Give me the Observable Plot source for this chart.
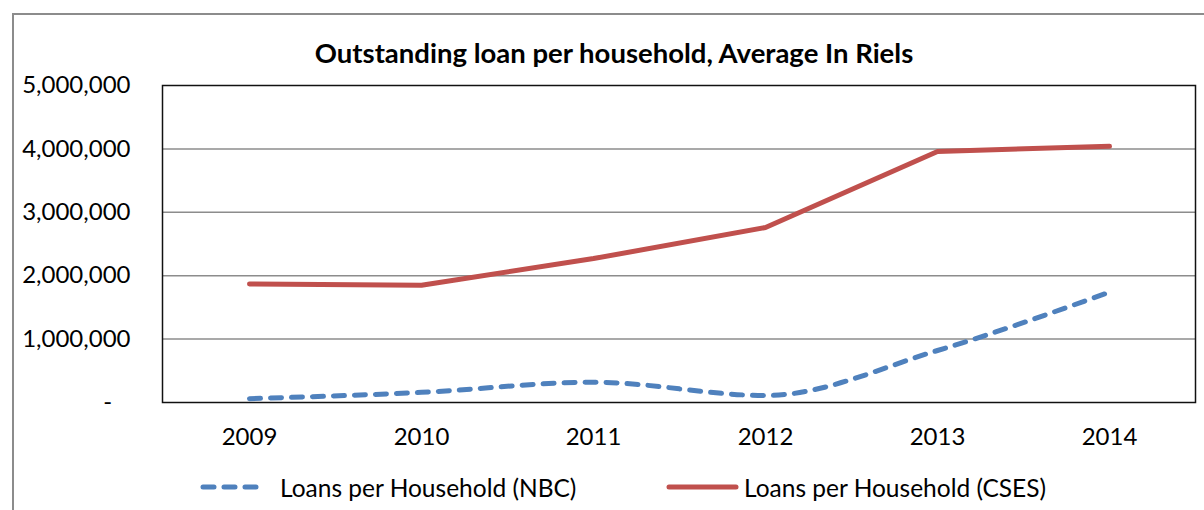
<!DOCTYPE html>
<html>
<head>
<meta charset="utf-8">
<script src="https://cdn.jsdelivr.net/npm/d3@7"></script>
<script src="https://cdn.jsdelivr.net/npm/@observablehq/plot@0.6"></script>
<style>
  body { margin: 0; background: #fff; font-family: Lato, "Open Sans", sans-serif; }
  #wrap { position: relative; width: 1204px; height: 510px; overflow: hidden; }
  #border { position: absolute; left: 12px; top: 13px; width: 1210px; height: 520px; border: 2px solid #8c8c8c; box-sizing: border-box; }
  #title { position: absolute; top: 36px; left: 0; width: 1228px; text-align: center; font-weight: bold; font-size: 27.5px; color: #000; }
  #chart { position: absolute; left: 0; top: 0; }
  #legend { position: absolute; top: 470px; left: 0; width: 1204px; height: 34px; font-size: 24.5px; color: #000; }
  .item { position: absolute; top: 0; display: flex; align-items: center; height: 34px; }
</style>
</head>
<body>
<div id="wrap">
  <div id="border"></div>
  <div id="title">Outstanding loan per household, Average In Riels</div>
  <div id="chart"></div>
  <div id="legend"></div>
</div>
<script>
const years = ["2009", "2010", "2011", "2012", "2013", "2014"];
const nbc = [60000, 160000, 320000, 110000, 820000, 1740000];
const cses = [1870000, 1850000, 2270000, 2760000, 3960000, 4040000];
const yTicks = [0, 1000000, 2000000, 3000000, 4000000, 5000000];
const seriesNames = ["Loans per Household (NBC)", "Loans per Household (CSES)"];
const colors = ["#4F81BD", "#C0504D"];

const nbcData = years.map((y, i) => ({year: y, value: nbc[i]}));
const csesData = years.map((y, i) => ({year: y, value: cses[i]}));

const plot = Plot.plot({
  width: 1204,
  height: 460,
  marginTop: 85,
  marginBottom: 58,
  marginLeft: 162,
  marginRight: 9,
  style: {fontFamily: "Lato, 'Open Sans', sans-serif", fontSize: "24px", color: "#000", background: "transparent"},
  x: {type: "point", domain: years, padding: 0.5, label: null},
  y: {domain: [0, 5000000], label: null},
  marks: [
    Plot.ruleY(yTicks.slice(1, -1), {stroke: "#8c8c8c", strokeWidth: 1.5}),
    Plot.frame({stroke: "#111", strokeWidth: 1.5}),
    Plot.axisY(yTicks, {
      tickSize: 0, tickPadding: 32, label: null,
      tickFormat: d => d === 0 ? "-\u00a0\u00a0\u00a0" : d3.format(",")(d),
      fill: "#000"
    }),
    Plot.axisX({tickSize: 0, tickPadding: 25, label: null, fill: "#000"}),
    Plot.line(nbcData, {
      x: "year", y: "value", stroke: colors[0], strokeWidth: 5,
      strokeDasharray: "11,10", strokeLinecap: "round", curve: "monotone-x"
    }),
    Plot.line(csesData, {
      x: "year", y: "value", stroke: colors[1], strokeWidth: 5,
      strokeLinecap: "round", strokeLinejoin: "round", curve: "linear"
    })
  ]
});
document.getElementById("chart").appendChild(plot);

const legend = document.getElementById("legend");
const positions = [{left: 200, w: 66}, {left: 666, w: 70}];
seriesNames.forEach((name, i) => {
  const item = document.createElement("div");
  item.className = "item";
  item.style.left = positions[i].left + "px";
  const dash = i === 0 ? 'stroke-dasharray="11,10"' : "";
  item.innerHTML = `<svg width="${positions[i].w + 10}" height="34"><line x1="3" x2="${positions[i].w}" y1="17" y2="17" stroke="${colors[i]}" stroke-width="5" stroke-linecap="round" ${dash}></line></svg><span style="margin-left:${i === 0 ? 4 : -2}px">${name}</span>`;
  legend.appendChild(item);
});
</script>
</body>
</html>
